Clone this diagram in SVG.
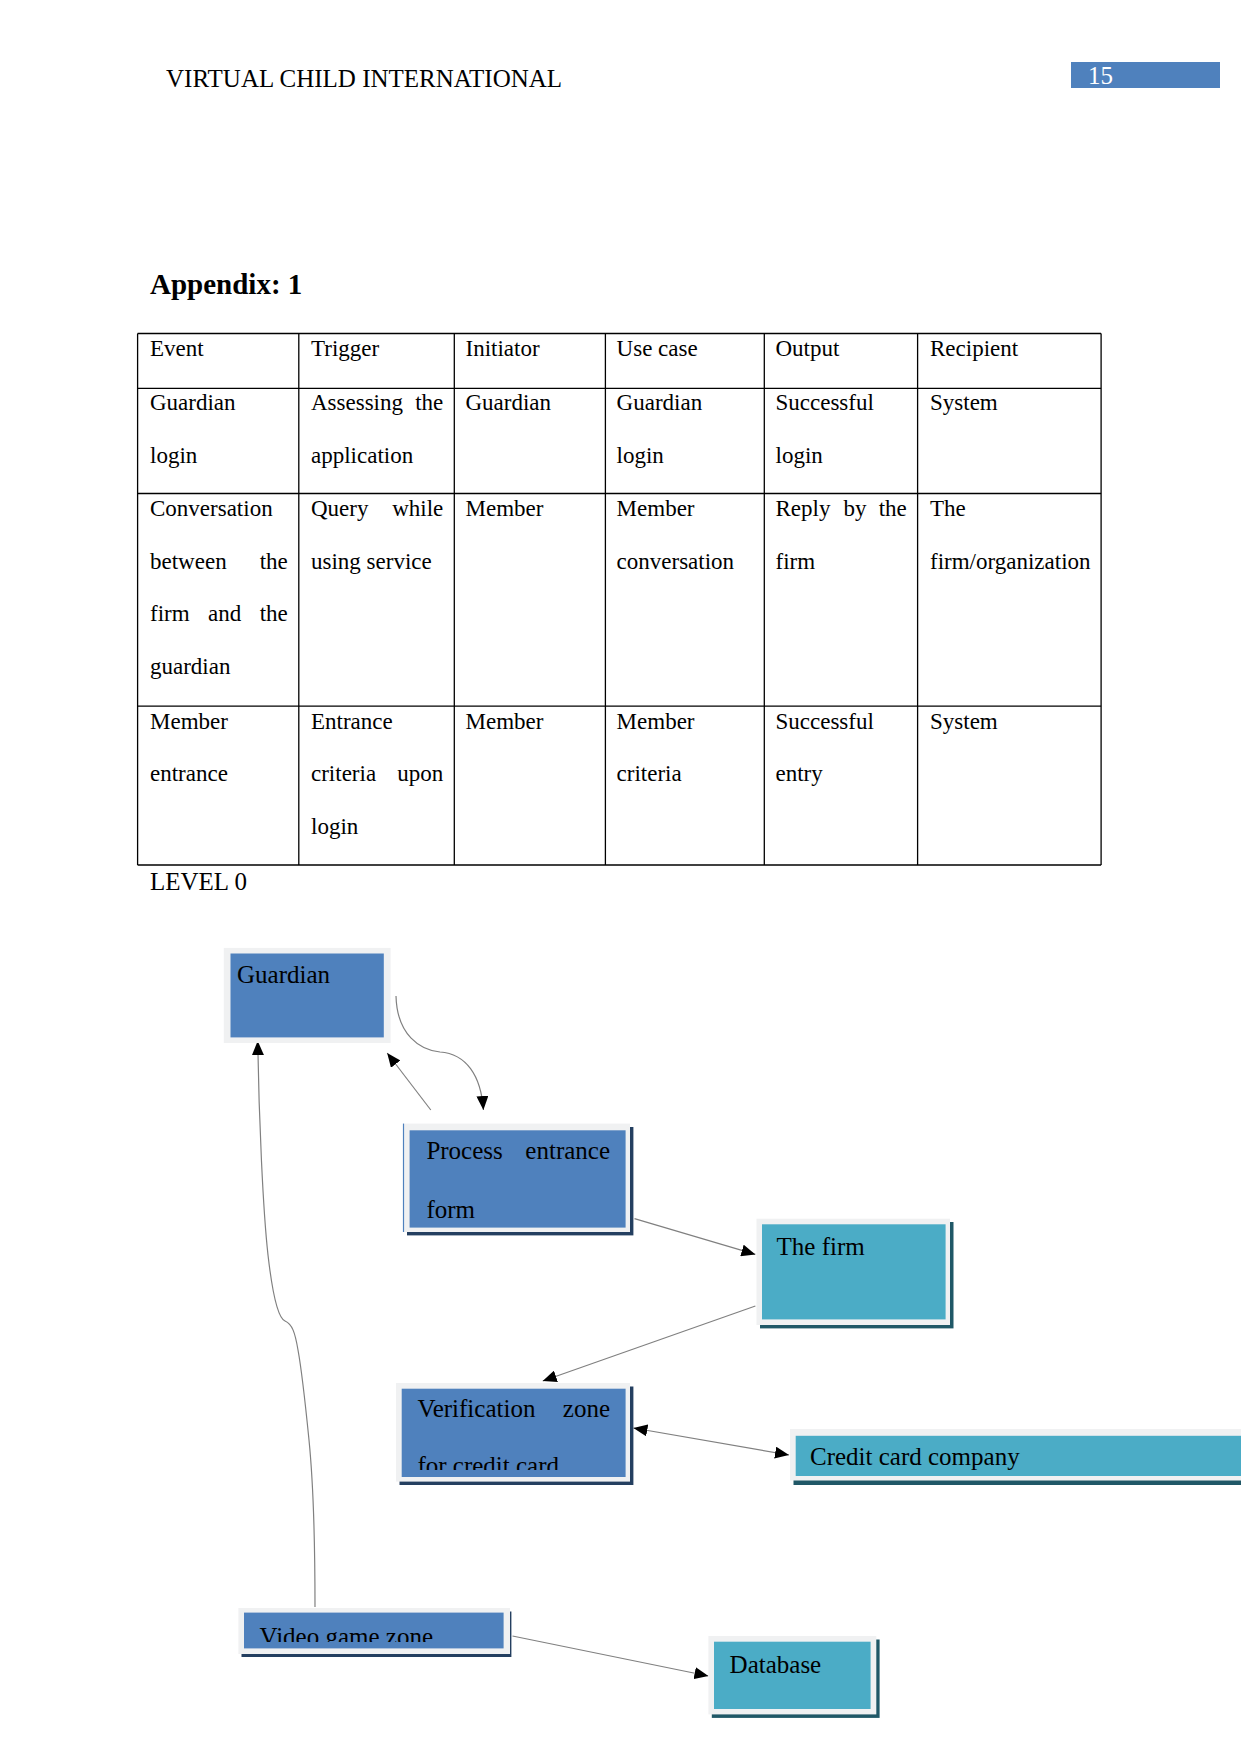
<svg xmlns="http://www.w3.org/2000/svg" width="1241" height="1754" viewBox="0 0 1241 1754">
<style>
text{font-family:"Liberation Serif","Times New Roman",serif;fill:#000}
.t{font-size:23px}
.n{font-size:25px}
.e{text-anchor:end}
.grid line{stroke:#000;stroke-width:1.3}
.frame{fill:#f0f1f2}
.blue{fill:#4f81bd}
.teal{fill:#4bacc6}
.sb{fill:#243f60}
.st{fill:#205867}
.conn path,.conn line{fill:none;stroke:#808080;stroke-width:1.2}
</style>
<defs>
<marker id="ah" viewBox="0 0 14 12" refX="14" refY="6" markerWidth="14" markerHeight="12" markerUnits="userSpaceOnUse" orient="auto-start-reverse">
<path d="M0,0 L14,6 L0,12 z" fill="#000"/>
</marker>
<clipPath id="cv"><rect x="401" y="1388" width="225" height="82"/></clipPath>
<clipPath id="cg"><rect x="244" y="1612" width="260" height="30"/></clipPath>
</defs>
<rect width="1241" height="1754" fill="#fff"/>
<g id="header">
<text x="166" y="87" font-size="25">VIRTUAL CHILD INTERNATIONAL</text>
<rect x="1071" y="62" width="149" height="26" fill="#4f81bd"/>
<text x="1088" y="84" font-size="25" style="fill:#fff">15</text>
</g>
<text x="150" y="294" font-size="29" font-weight="bold">Appendix: 1</text>
<g id="table">
<g class="grid">
<line x1="137.6" y1="333.5" x2="1101.1" y2="333.5"/>
<line x1="137.6" y1="388.3" x2="1101.1" y2="388.3"/>
<line x1="137.6" y1="493.5" x2="1101.1" y2="493.5"/>
<line x1="137.6" y1="706.1" x2="1101.1" y2="706.1"/>
<line x1="137.6" y1="865" x2="1101.1" y2="865"/>
<line x1="137.6" y1="333.5" x2="137.6" y2="865"/>
<line x1="298.8" y1="333.5" x2="298.8" y2="865"/>
<line x1="454.3" y1="333.5" x2="454.3" y2="865"/>
<line x1="605.4" y1="333.5" x2="605.4" y2="865"/>
<line x1="764.3" y1="333.5" x2="764.3" y2="865"/>
<line x1="917.6" y1="333.5" x2="917.6" y2="865"/>
<line x1="1101.1" y1="333.5" x2="1101.1" y2="865"/>
</g>
<g class="t">
<text class="t" x="150" y="356">Event</text>
<text class="t" x="311" y="356">Trigger</text>
<text class="t" x="465.5" y="356">Initiator</text>
<text class="t" x="616.6" y="356">Use case</text>
<text class="t" x="775.5" y="356">Output</text>
<text class="t" x="930" y="356">Recipient</text>

<text class="t" x="150" y="410">Guardian</text>
<text class="t" x="150" y="463">login</text>
<text class="t" x="311" y="410">Assessing</text>
<text class="t e" x="443.3" y="410">the</text>
<text class="t" x="311" y="463">application</text>
<text class="t" x="465.5" y="410">Guardian</text>
<text class="t" x="616.6" y="410">Guardian</text>
<text class="t" x="616.6" y="463">login</text>
<text class="t" x="775.5" y="410">Successful</text>
<text class="t" x="775.5" y="463">login</text>
<text class="t" x="930" y="410">System</text>

<text class="t" x="150" y="516">Conversation</text>
<text class="t" x="150" y="568.6">between</text>
<text class="t e" x="287.8" y="568.6">the</text>
<text class="t" x="150" y="621.2">firm</text>
<text class="t" x="208" y="621.2">and</text>
<text class="t e" x="287.8" y="621.2">the</text>
<text class="t" x="150" y="673.8">guardian</text>
<text class="t" x="311" y="516">Query</text>
<text class="t e" x="443.3" y="516">while</text>
<text class="t" x="311" y="568.6">using service</text>
<text class="t" x="465.5" y="516">Member</text>
<text class="t" x="616.6" y="516">Member</text>
<text class="t" x="616.6" y="568.6">conversation</text>
<text class="t" x="775.5" y="516">Reply</text>
<text class="t" x="843.5" y="516">by</text>
<text class="t e" x="906.8" y="516">the</text>
<text class="t" x="775.5" y="568.6">firm</text>
<text class="t" x="930" y="516">The</text>
<text class="t" x="930" y="568.6">firm/organization</text>

<text class="t" x="150" y="728.5">Member</text>
<text class="t" x="150" y="781.1">entrance</text>
<text class="t" x="311" y="728.5">Entrance</text>
<text class="t" x="311" y="781.1">criteria</text>
<text class="t e" x="443.3" y="781.1">upon</text>
<text class="t" x="311" y="833.7">login</text>
<text class="t" x="465.5" y="728.5">Member</text>
<text class="t" x="616.6" y="728.5">Member</text>
<text class="t" x="616.6" y="781.1">criteria</text>
<text class="t" x="775.5" y="728.5">Successful</text>
<text class="t" x="775.5" y="781.1">entry</text>
<text class="t" x="930" y="728.5">System</text>
</g>
</g>
<text class="n" x="150" y="889.6">LEVEL 0</text>

<g id="connectors" class="conn">
<path d="M396,996 C397,1035 420,1050 440,1052 C466,1054 481,1075 483.4,1110" marker-end="url(#ah)"/>
<line x1="430.8" y1="1110" x2="387.2" y2="1053" marker-end="url(#ah)"/>
<line x1="634.5" y1="1218.6" x2="755.4" y2="1254.4" marker-end="url(#ah)"/>
<line x1="755.4" y1="1306" x2="542.7" y2="1381" marker-end="url(#ah)"/>
<line x1="633.4" y1="1428" x2="789" y2="1455" marker-start="url(#ah)" marker-end="url(#ah)"/>
<line x1="512.5" y1="1636" x2="708.4" y2="1676" marker-end="url(#ah)"/>
<path d="M315,1607 C315,1540 313,1480 309,1440 C305,1400 302,1372 298,1350 C295,1332 292,1324 285,1321 C278,1318 272,1290 268,1255 C263,1210 259,1120 257.7,1041" marker-end="url(#ah)"/>
</g>

<g id="guardian">
<rect class="frame" x="223.8" y="947.9" width="166.8" height="95.1"/>
<rect class="blue" x="230.5" y="953.5" width="153.3" height="83.9"/>
<text class="n" x="237" y="982.5">Guardian</text>
</g>

<g id="process">
<rect class="sb" x="407" y="1127" width="226.4" height="108.4"/>
<rect class="frame" x="403" y="1123.6" width="227" height="108.4"/>
<line x1="403.5" y1="1123.6" x2="403.5" y2="1232" stroke="#4f81bd" stroke-width="1.2"/>
<rect class="blue" x="409.6" y="1130.3" width="216" height="97.3"/>
<text class="n" x="426.4" y="1159.4">Process</text>
<text class="n e" x="610" y="1159.4">entrance</text>
<text class="n" x="426.4" y="1217.6">form</text>
</g>

<g id="firm">
<rect class="st" x="760" y="1222" width="193.5" height="106.4"/>
<rect class="frame" x="756.5" y="1218.7" width="193.5" height="106.3"/>
<rect class="teal" x="762" y="1224.3" width="183.6" height="95.1"/>
<text class="n" x="776.6" y="1254.5">The firm</text>
</g>

<g id="verification">
<rect class="sb" x="399.5" y="1386.5" width="233.9" height="98.5"/>
<rect class="frame" x="396" y="1383" width="234" height="98.6"/>
<rect class="blue" x="401.7" y="1388.7" width="223.9" height="88.3"/>
<text class="n" x="417.4" y="1416.6">Verification</text>
<text class="n e" x="610" y="1416.6">zone</text>
<text class="n" x="417.4" y="1474" clip-path="url(#cv)">for credit card</text>
</g>

<g id="creditcard">
<rect class="st" x="793.5" y="1432.5" width="447.5" height="52.5"/>
<rect class="frame" x="790" y="1429" width="451" height="51.5"/>
<rect class="teal" x="795.7" y="1435.8" width="445.3" height="40.2"/>
<text class="n" x="810" y="1465">Credit card company</text>
</g>

<g id="videogame">
<rect class="sb" x="241.5" y="1611.5" width="269.9" height="45.5"/>
<rect class="frame" x="238.4" y="1608" width="271.6" height="46"/>
<rect class="blue" x="244" y="1612.6" width="259.6" height="35.8"/>
<text class="n" x="259.6" y="1644.5" clip-path="url(#cg)">Video game zone</text>
</g>

<g id="database">
<rect class="st" x="711.8" y="1639.5" width="167.8" height="78.4"/>
<rect class="frame" x="708.4" y="1636" width="167.9" height="78.4"/>
<rect class="teal" x="714" y="1641.7" width="156.6" height="67.3"/>
<text class="n" x="729.6" y="1673">Database</text>
</g>
</svg>
